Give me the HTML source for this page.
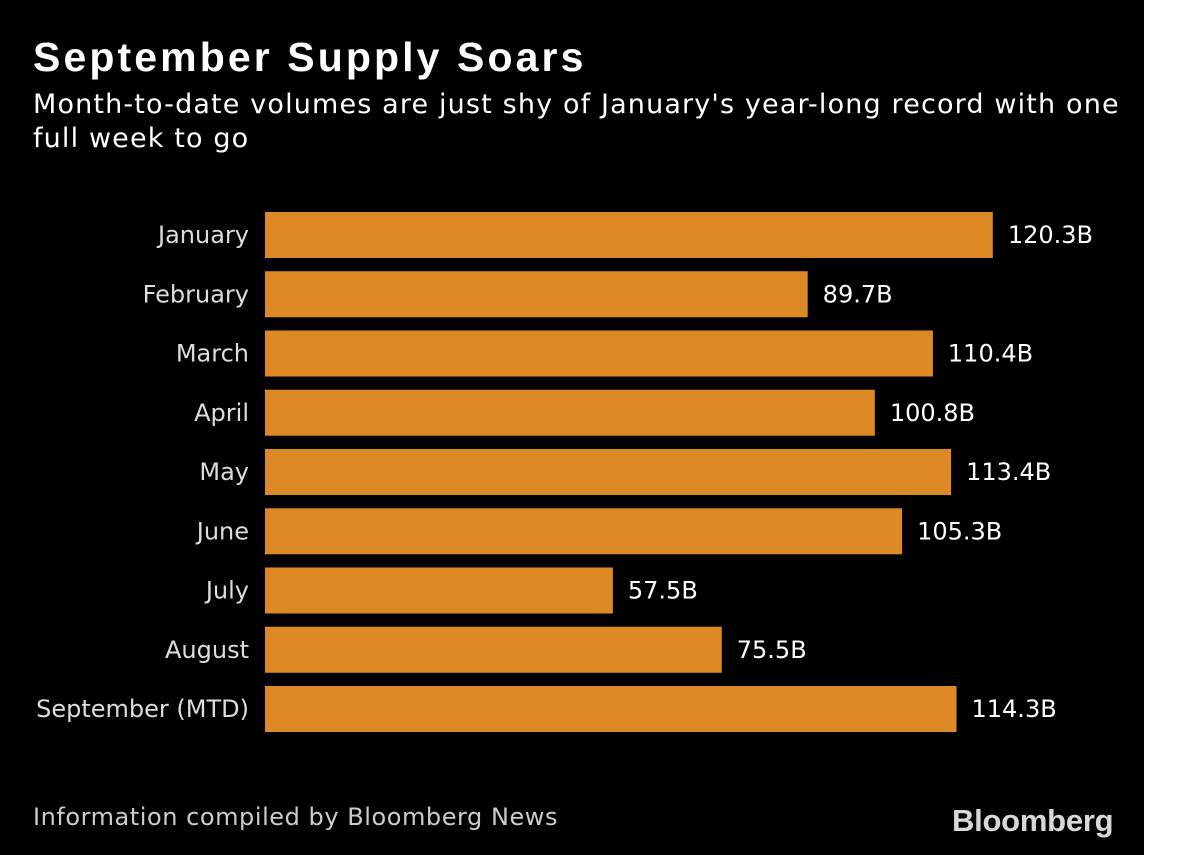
<!DOCTYPE html>
<html><head><meta charset="utf-8"><style>
body{margin:0;width:1200px;height:855px;background:#fff;overflow:hidden;font-family:"Liberation Sans","DejaVu Sans",sans-serif}
#bg{position:absolute;left:0;top:0;width:1144px;height:855px;background:#000}
.t{position:absolute;color:#fff;white-space:nowrap}
</style></head><body>
<div id="bg"></div>
<div class="t" style="left:33px;top:34px;font-size:41px;font-weight:bold;letter-spacing:3.1px">September Supply Soars</div>
<div class="t" style="left:33px;top:88px;line-height:34px;font-family:'DejaVu Sans',sans-serif;font-size:27px;letter-spacing:1.15px">Month-to-date volumes are just shy of January's year-long record with one<br>full week to go</div>
<svg id="c" width="1144" height="855" style="position:absolute;left:0;top:0"></svg>
<div class="t" style="left:33px;top:803px;font-size:24px;color:#ccc;font-family:'DejaVu Sans',sans-serif;letter-spacing:0.55px">Information compiled by Bloomberg News</div>
<div class="t" style="left:952px;top:803px;font-size:31px;font-weight:bold;color:#d8d8d8;letter-spacing:-0.25px">Bloomberg</div>
<script>
const categories=["January","February","March","April","May","June","July","August","September (MTD)"];
const values=[120.3,89.7,110.4,100.8,113.4,105.3,57.5,75.5,114.3];
const labels=["120.3B","89.7B","110.4B","100.8B","113.4B","105.3B","57.5B","75.5B","114.3B"];
const svg=document.getElementById('c');const NS='http://www.w3.org/2000/svg';
const x=v=>v*6.05, y0=212, step=59.25, bh=46, left=265;
categories.forEach((c,i)=>{
 const y=y0+i*step;
 const r=document.createElementNS(NS,'rect');
 r.setAttribute('x',left);r.setAttribute('y',y);r.setAttribute('width',x(values[i]));r.setAttribute('height',bh);r.setAttribute('fill','#dd8a26');
 
 
 svg.appendChild(r);
 const t=document.createElementNS(NS,'text');
 t.setAttribute('x',249);t.setAttribute('y',y+bh/2+8);t.setAttribute('text-anchor','end');t.setAttribute('fill','#ddd');t.setAttribute('font-size','24');t.setAttribute('font-family','DejaVu Sans, sans-serif');t.textContent=c;
 
 
 svg.appendChild(t);
 const v=document.createElementNS(NS,'text');
 v.setAttribute('x',left+x(values[i])+15);v.setAttribute('y',y+bh/2+8);v.setAttribute('fill','#fff');v.setAttribute('font-size','24');v.setAttribute('font-family','DejaVu Sans, sans-serif');v.textContent=labels[i];
 
 
 svg.appendChild(v);
});
</script>
</body></html>
